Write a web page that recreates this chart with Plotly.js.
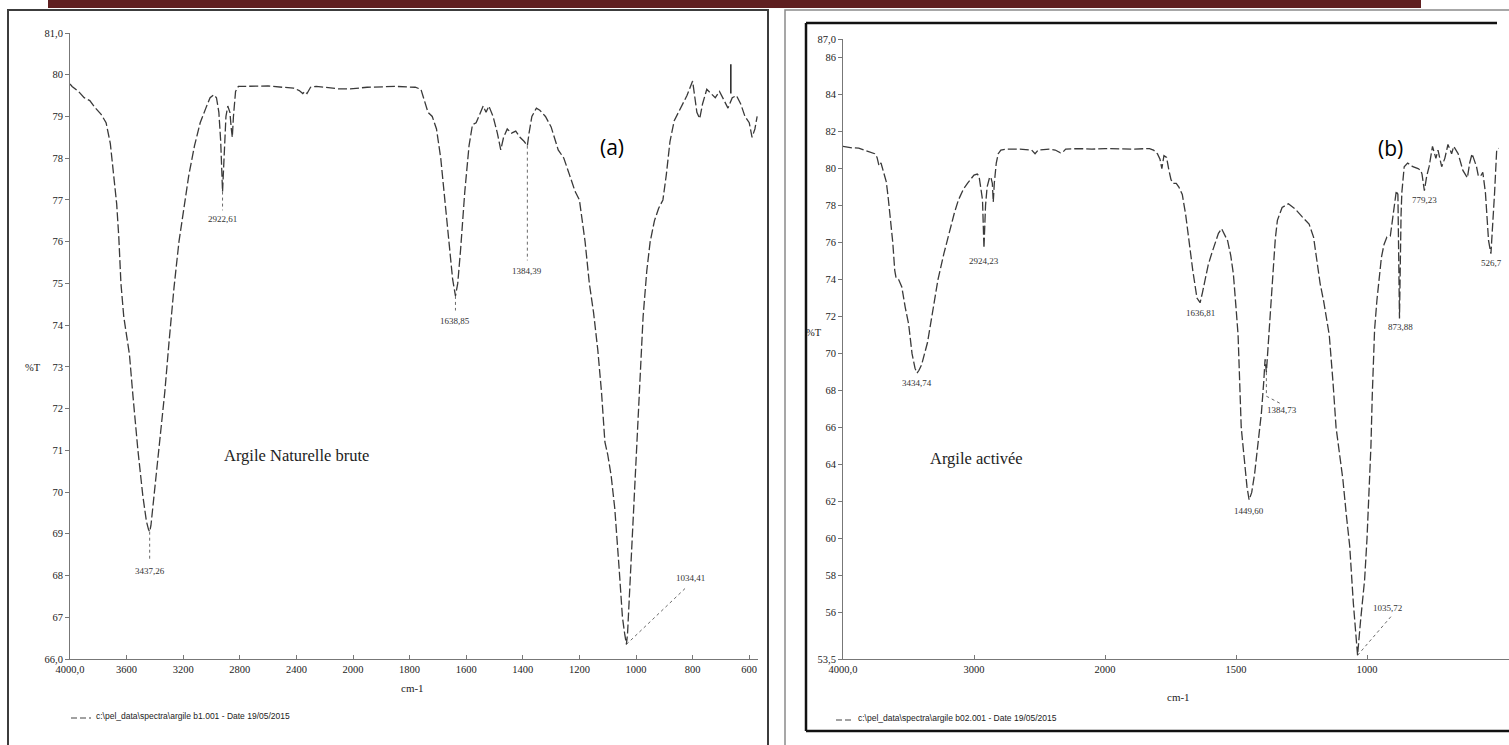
<!DOCTYPE html>
<html>
<head>
<meta charset="utf-8">
<script src="https://cdn.plot.ly/plotly-3.0.1.min.js"></script>
<style>html,body{margin:0;padding:0;background:#fff;}#chart{width:1509px;height:745px;}</style>
</head>
<body>
<div id="chart"></div>
<script>
// ---------- Spectrum (a): Argile Naturelle brute ----------
const wnA = [4000,3985,3940,3900,3860,3820,3780,3745,3715,3690,
  3670,3655,3640,3620,3600,3580,3555,3520,3485,3460,
  3445,3437,3428,3410,3385,3360,3330,3300,3265,3230,
  3200,3160,3120,3080,3040,3010,2985,2965,2948,2935,
  2922,2910,2898,2885,2870,2860,2853,2845,2830,2810,
  2700,2600,2500,2420,2380,2355,2340,2325,2300,2260,
  2200,2100,2020,1950,1850,1780,1760,1748,1735,1720,
  1705,1690,1675,1660,1648,1638,1630,1620,1605,1590,
  1578,1565,1553,1540,1530,1520,1505,1490,1478,1468,
  1455,1440,1425,1410,1395,1384,1378,1368,1352,1340,
  1320,1300,1275,1255,1235,1215,1200,1180,1165,1150,
  1135,1122,1110,1100,1088,1075,1060,1048,1040,1034,
  1030,1020,1005,990,975,962,950,935,920,905,
  893,880,865,850,835,820,800,792,785,775,
  765,750,735,720,705,690,675,660,645,630,
  615,600,590,580,572];
const tA = [79.78,79.72,79.6,79.45,79.38,79.2,79.05,78.85,78.35,77.6,
  76.9,76.1,75.0,74.2,73.8,73.3,72.3,71.0,69.9,69.3,
  69.1,69.05,69.2,69.8,70.5,71.3,72.4,73.6,74.9,76.0,
  76.7,77.6,78.3,78.85,79.2,79.45,79.52,79.45,79.1,78.4,
  77.2,78.3,79.0,79.25,79.1,78.7,78.5,79.0,79.6,79.72,
  79.72,79.73,79.7,79.68,79.62,79.55,79.6,79.55,79.7,79.72,
  79.7,79.66,79.66,79.7,79.72,79.7,79.65,79.4,79.1,79.0,
  78.7,78.0,77.0,75.9,75.1,74.7,75.0,75.8,77.2,78.3,
  78.8,78.85,79.05,79.25,79.1,79.25,79.0,78.6,78.2,78.5,
  78.7,78.6,78.65,78.5,78.4,78.3,78.6,79.0,79.2,79.15,
  79.0,78.75,78.2,78.0,77.6,77.2,77.0,76.0,75.0,74.3,
  73.4,72.4,71.2,70.9,70.4,69.6,68.2,67.0,66.6,66.35,
  66.6,68.0,70.3,72.4,74.2,75.3,76.0,76.5,76.8,77.0,
  77.6,78.4,78.9,79.1,79.3,79.5,79.85,79.5,79.1,78.95,
  79.3,79.65,79.55,79.45,79.6,79.4,79.2,79.45,79.5,79.3,
  79.0,78.85,78.5,78.7,79.0];

// ---------- Spectrum (b): Argile activée ----------
const wnB = [4000,3985,3930,3880,3840,3810,3780,3758,3740,3725,
  3710,3690,3670,3656,3640,3620,3605,3595,3575,3551,
  3525,3499,3473,3450,3435,3420,3400,3379,3355,3336,
  3310,3275,3230,3191,3150,3119,3080,3050,3020,3000,
  2975,2962,2947,2935,2924,2912,2900,2880,2870,2860,
  2853,2845,2830,2815,2795,2750,2650,2560,2534,2510,
  2420,2380,2340,2320,2300,2200,2100,2000,1900,1830,
  1815,1800,1790,1783,1775,1765,1756,1748,1740,1728,
  1718,1705,1692,1679,1665,1649,1637,1628,1619,1606,
  1593,1580,1567,1555,1545,1532,1520,1510,1500,1492,
  1480,1467,1458,1450,1440,1429,1415,1403,1394,1389,
  1384,1378,1372,1368,1359,1350,1342,1324,1300,1285,
  1273,1248,1221,1204,1192,1179,1165,1153,1144,1130,
  1118,1105,1092,1079,1066,1052,1044,1036,1025,1009,
  1000,992,985,980,975,971,962,953,945,935,
  924,911,905,898,888,882,876,870,867,858,
  845,825,805,795,790,781,772,763,750,737,
  729,715,703,691,677,669,652,634,617,608,
  599,582,575,566,558,548,536,527,520,513,
  505,498];
const tB = [81.2,81.18,81.12,81.1,81.0,80.9,80.85,80.8,80.6,80.15,
  80.3,79.85,79.3,78.5,77.4,76.0,74.5,74.1,74.0,73.6,
  72.5,71.6,70.0,69.2,68.95,69.1,69.4,69.9,70.6,71.4,
  72.6,74.0,75.4,76.5,77.6,78.3,78.9,79.2,79.5,79.65,
  79.7,79.6,78.9,78.3,75.7,78.0,79.0,79.55,79.5,79.2,
  78.2,79.2,80.3,80.8,81.0,81.05,81.05,81.0,80.8,81.0,
  81.05,81.0,80.85,80.9,81.05,81.08,81.05,81.08,81.05,81.08,
  81.0,80.8,80.5,80.0,80.7,80.6,79.9,79.4,79.2,79.2,
  79.0,78.6,77.5,76.0,74.5,73.0,72.75,73.3,74.0,74.8,
  75.4,76.0,76.5,76.75,76.5,76.1,75.3,74.3,72.5,71.0,
  66.0,64.2,62.8,62.1,62.5,63.5,65.2,66.8,68.5,69.7,
  69.0,70.3,71.5,72.9,74.7,76.2,77.2,77.9,78.1,77.95,
  77.8,77.4,77.0,76.3,75.2,73.8,72.8,71.8,71.0,68.5,
  66.0,64.6,63.2,61.3,59.6,56.5,55.0,53.7,55.5,57.8,
  60.0,62.3,65.0,67.7,70.0,71.3,72.9,74.2,75.2,75.9,
  76.3,76.35,77.0,77.75,78.8,78.6,71.9,77.5,78.7,80.1,
  80.3,80.1,80.0,79.9,79.7,78.8,79.6,80.1,81.2,80.55,
  81.0,80.1,80.55,81.3,80.8,81.2,80.8,79.9,79.5,80.3,
  80.8,80.1,79.6,79.6,79.8,78.7,76.1,75.4,76.8,78.7,
  81.0,81.1];

// ---------- Axis ticks ----------
const xTicksA = [4000,3600,3200,2800,2400,2000,1800,1600,1400,1200,1000,800,600];
const xTickTextA = ["4000,0","3600","3200","2800","2400","2000","1800","1600","1400","1200","1000","800","600"];
const yTicksA = [66,67,68,69,70,71,72,73,74,75,76,77,78,79,80,81];
const yTickTextA = ["66,0","67","68","69","70","71","72","73","74","75","76","77","78","79","80","81,0"];
const xTicksB = [4000,3000,2000,1500,1000];
const xTickTextB = ["4000,0","3000","2000","1500","1000"];
const yTicksB = [53.5,56,58,60,62,64,66,68,70,72,74,76,78,80,82,84,86,87];
const yTickTextB = ["53,5","56","58","60","62","64","66","68","70","72","74","76","78","80","82","84","86","87,0"];

// ---------- Peak labels ----------
const peakTextA = ["3437,26","2922,61","1638,85","1384,39","1034,41"];
const peakWnA   = [3437, 2922, 1638, 1384, 809];
const peakYA    = [68.1, 76.55, 74.1, 75.3, 67.93];
const peakTextB = ["3434,74","2924,23","1636,81","1449,60","1384,73","1035,72","873,88","779,23","526,7"];
const peakWnB   = [3434, 2924, 1637, 1450, 1324, 920, 874, 779, 524];
const peakYB    = [68.4, 75.0, 72.2, 61.5, 66.95, 56.25, 71.45, 78.3, 74.9];

// FT-IR axis: scale doubles below 2000 cm-1
function xmap(w){ return w >= 2000 ? 4000 - w : 2000 + 2*(2000 - w); }

const W = 1509, H = 745;
const PX = x => x / W;
const PY = y => 1 - y / H;

const lineStyle = {color:'#3a3a3a', width:1.3, dash:'9px,3px'};
const traces = [
  {x: wnA.map(xmap), y: tA, xaxis:'x', yaxis:'y', type:'scatter', mode:'lines', line: lineStyle, hoverinfo:'skip'},
  {x: wnB.map(xmap), y: tB, xaxis:'x2', yaxis:'y2', type:'scatter', mode:'lines', line: lineStyle, hoverinfo:'skip'}
];

const tickFont = {family:'Liberation Serif, Times New Roman, serif', size:10.5, color:'#222'};
const axBase = {showgrid:false, zeroline:false, showline:true, linecolor:'#777', linewidth:1,
  tickcolor:'#777', ticklen:4, tickfont: tickFont, tickmode:'array', fixedrange:true};

const annotations = [];
const lblFont = {family:'Liberation Serif, Times New Roman, serif', size:9, color:'#333'};
peakTextA.forEach((t,i)=>annotations.push({xref:'x', yref:'y', x: xmap(peakWnA[i]), y: peakYA[i], text:t, showarrow:false, xanchor:'center', yanchor:'middle', font: lblFont}));
peakTextB.forEach((t,i)=>annotations.push({xref:'x2', yref:'y2', x: xmap(peakWnB[i]), y: peakYB[i], text:t, showarrow:false, xanchor:'center', yanchor:'middle', font: lblFont}));

const serif = 'Liberation Serif, Times New Roman, serif';
const sans = 'Open Sans, Liberation Sans, sans-serif';
function note(x, y, text, font, xanchor){
  return {xref:'paper', yref:'paper', x:PX(x), y:PY(y), text:text, showarrow:false,
    xanchor: xanchor || 'center', yanchor:'middle', font:font};
}
annotations.push(
  note(296, 455, 'Argile Naturelle brute', {family:serif, size:16.5, color:'#222'}),
  note(976, 458, 'Argile activée', {family:serif, size:16.5, color:'#222'}),
  note(612, 147, '(a)', {family:sans, size:21, color:'#000'}),
  note(1390, 148, '(b)', {family:sans, size:21, color:'#000'}),
  note(33, 367, '%T', {family:serif, size:10.5, color:'#222'}),
  note(814, 333, '%T', {family:serif, size:10.5, color:'#222'}),
  note(412, 688, 'cm-1', {family:serif, size:11, color:'#222'}),
  note(1178, 697, 'cm-1', {family:serif, size:11, color:'#222'}),
  note(94, 716, 'c:\\pel_data\\spectra\\argile b1.001 - Date 19/05/2015', {family:'Liberation Sans, Arial, sans-serif', size:8.5, color:'#222'}, 'left'),
  note(856, 718, 'c:\\pel_data\\spectra\\argile b02.001 - Date 19/05/2015', {family:'Liberation Sans, Arial, sans-serif', size:8.5, color:'#222'}, 'left')
);

const dotted = {color:'#444', width:0.8, dash:'dot'};
const shapes = [
  // page decoration
  {type:'rect', xref:'paper', yref:'paper', x0:PX(48), x1:PX(1421), y0:PY(0), y1:PY(8), fillcolor:'#5f1f20', line:{width:0}},
  {type:'rect', xref:'paper', yref:'paper', x0:PX(8), x1:PX(768), y0:PY(10), y1:PY(760), line:{color:'#3c3c3c', width:2}},
  {type:'rect', xref:'paper', yref:'paper', x0:PX(785), x1:PX(1520), y0:PY(10), y1:PY(760), line:{color:'#8a8a8a', width:1.5}},
  {type:'line', xref:'paper', yref:'paper', x0:PX(806), x1:PX(1497), y0:PY(23), y1:PY(23), line:{color:'#111', width:2.5}},
  {type:'line', xref:'paper', yref:'paper', x0:PX(806), x1:PX(806), y0:PY(23), y1:PY(731), line:{color:'#111', width:2.5}},
  {type:'line', xref:'paper', yref:'paper', x0:PX(806), x1:PX(1509), y0:PY(731), y1:PY(731), line:{color:'#111', width:2.5}},
  // footer legend dashes
  {type:'line', xref:'paper', yref:'paper', x0:PX(71), x1:PX(91), y0:PY(718), y1:PY(718), line:{color:'#444', width:1, dash:'6px,3px'}},
  {type:'line', xref:'paper', yref:'paper', x0:PX(836), x1:PX(853), y0:PY(720), y1:PY(720), line:{color:'#444', width:1, dash:'6px,3px'}},
  // leaders (a)
  {type:'line', xref:'x', yref:'y', x0:xmap(3437), x1:xmap(3437), y0:69.05, y1:68.35, line:dotted},
  {type:'line', xref:'x', yref:'y', x0:xmap(2922), x1:xmap(2922), y0:77.2, y1:76.75, line:dotted},
  {type:'line', xref:'x', yref:'y', x0:xmap(1638), x1:xmap(1638), y0:74.7, y1:74.35, line:dotted},
  {type:'line', xref:'x', yref:'y', x0:xmap(1384), x1:xmap(1384), y0:78.3, y1:75.55, line:dotted},
  {type:'line', xref:'x', yref:'y', x0:xmap(1034), x1:xmap(822), y0:66.35, y1:67.72, line:dotted},
  {type:'line', xref:'x', yref:'y', x0:xmap(665), x1:xmap(665), y0:79.55, y1:80.25, line:{color:'#222', width:1.5}},
  // leaders (b)
  {type:'line', xref:'x2', yref:'y2', x0:xmap(1384), x1:xmap(1384), y0:69.0, y1:67.7, line:dotted},
  {type:'line', xref:'x2', yref:'y2', x0:xmap(1384), x1:xmap(1330), y0:67.7, y1:67.3, line:dotted},
  {type:'line', xref:'x2', yref:'y2', x0:xmap(1036), x1:xmap(905), y0:53.7, y1:55.85, line:dotted}
];

const layout = {
  width: W, height: H,
  margin:{l:0, r:0, t:0, b:0},
  paper_bgcolor:'#fff', plot_bgcolor:'rgba(0,0,0,0)',
  showlegend:false, hovermode:false,
  xaxis: Object.assign({}, axBase, {domain:[PX(70), PX(758)], anchor:'y', range:[0, xmap(569)],
    tickvals: xTicksA.map(xmap), ticktext: xTickTextA, ticks:'inside'}),
  yaxis: Object.assign({}, axBase, {domain:[PY(659), PY(33)], anchor:'x', range:[66, 81],
    tickvals: yTicksA, ticktext: yTickTextA, ticks:'outside'}),
  xaxis2: Object.assign({}, axBase, {domain:[PX(843), 1], anchor:'y2', range:[0, xmap(458)],
    tickvals: xTicksB.map(xmap), ticktext: xTickTextB, ticks:'inside'}),
  yaxis2: Object.assign({}, axBase, {domain:[PY(659), PY(39)], anchor:'x2', range:[53.5, 87],
    tickvals: yTicksB, ticktext: yTickTextB, ticks:'outside'}),
  annotations: annotations,
  shapes: shapes
};

Plotly.newPlot('chart', traces, layout, {displayModeBar:false, staticPlot:true});
</script>
</body>
</html>
